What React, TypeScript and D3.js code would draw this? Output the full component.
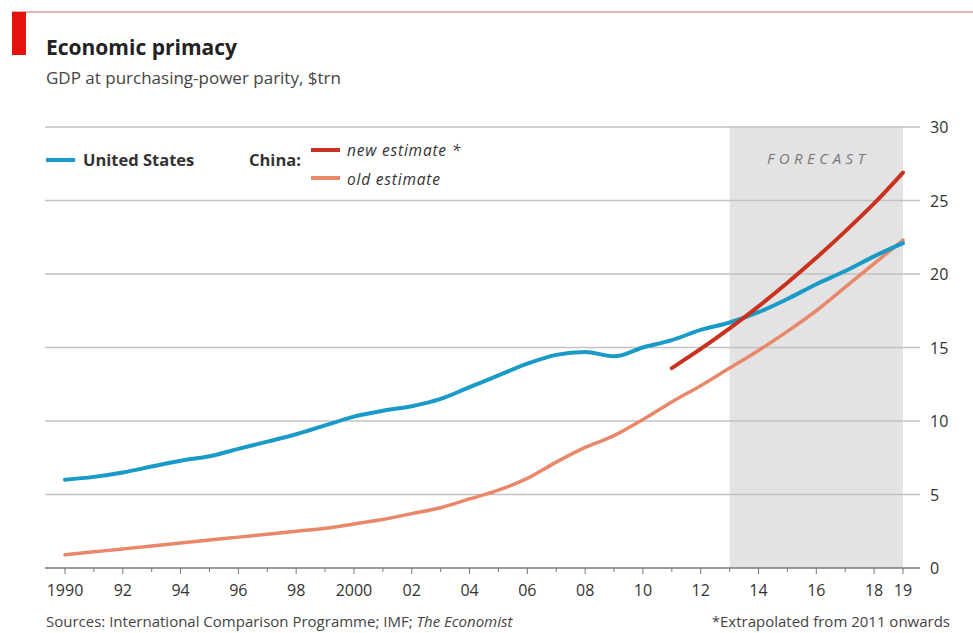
import React, { useEffect, useRef } from 'react';
import * as d3 from 'd3';

const years = d3.range(1990, 2020);
const usGdp = [
  6.0, 6.2, 6.5, 6.9, 7.3, 7.6, 8.1, 8.6, 9.1, 9.7, 10.3, 10.7, 11.0, 11.5, 12.3, 13.1, 13.9, 14.5, 14.7, 14.4,
  15.0, 15.5, 16.2, 16.7, 17.4, 18.3, 19.3, 20.2, 21.2, 22.1,
];
const chinaOld = [
  0.9, 1.1, 1.3, 1.5, 1.7, 1.9, 2.1, 2.3, 2.5, 2.7, 3.0, 3.3, 3.7, 4.1, 4.7, 5.3, 6.1, 7.2, 8.2, 9.0,
  10.1, 11.3, 12.4, 13.6, 14.8, 16.1, 17.5, 19.1, 20.7, 22.3,
];
const chinaNewYears = d3.range(2011, 2020);
const chinaNew = [13.6, 14.9, 16.3, 17.8, 19.4, 21.1, 22.9, 24.8, 26.9];
const yTicks = [0, 5, 10, 15, 20, 25, 30];
const xTickYears = [1990, 1992, 1994, 1996, 1998, 2000, 2002, 2004, 2006, 2008, 2010, 2012, 2014, 2016, 2018, 2019];
const forecastStart = 2013;

const W = 973;
const H = 633;
const font = '"Open Sans", "Noto Sans", sans-serif';

function App() {
  const ref = useRef<any>(null);

  useEffect(() => {
    const svg = d3.select(ref.current);
    svg.selectAll('*').remove();

    const x = d3.scaleLinear().domain([1990, 2019]).range([65, 903]);
    const y = d3.scaleLinear().domain([0, 30]).range([568, 127]);

    // header
    svg.append('line').attr('x1', 12).attr('x2', W).attr('y1', 12).attr('y2', 12)
      .attr('stroke', '#d79a8c').attr('stroke-width', 1.5);
    svg.append('rect').attr('x', 12).attr('y', 12).attr('width', 14).attr('height', 43).attr('fill', '#e3120b');
    svg.append('text').attr('x', 46).attr('y', 55).text('Economic primacy')
      .attr('font-family', font).attr('font-weight', 700).attr('font-size', 21).attr('fill', '#222');
    svg.append('text').attr('x', 46).attr('y', 84).text('GDP at purchasing-power parity, $trn')
      .attr('font-family', font).attr('font-size', 17).attr('fill', '#444');

    // forecast shading
    svg.append('rect')
      .attr('x', x(forecastStart)).attr('y', y(30))
      .attr('width', x(2019) - x(forecastStart)).attr('height', y(0) - y(30))
      .attr('fill', '#e3e3e3');
    svg.append('text').attr('x', (x(forecastStart) + x(2019)) / 2 + 2).attr('y', 164)
      .attr('text-anchor', 'middle').text('FORECAST')
      .attr('font-family', font).attr('font-style', 'italic').attr('font-size', 15)
      .attr('letter-spacing', 4.5).attr('fill', '#777');

    // gridlines + right labels
    const grid = svg.append('g');
    yTicks.filter((t) => t > 0).forEach((t) => {
      grid.append('line').attr('x1', 45).attr('x2', 920).attr('y1', y(t)).attr('y2', y(t))
        .attr('stroke', '#c2c2c2').attr('stroke-width', 1.5);
    });
    yTicks.forEach((t) => {
      grid.append('text').attr('x', 930).attr('y', y(t) + 6).text(String(t))
        .attr('font-family', font).attr('font-size', 16).attr('fill', '#333');
    });

    // x axis
    svg.append('line').attr('x1', 45).attr('x2', 920).attr('y1', y(0)).attr('y2', y(0))
      .attr('stroke', '#777').attr('stroke-width', 1.5);
    years.forEach((yr) => {
      const major = xTickYears.includes(yr);
      svg.append('line').attr('x1', x(yr)).attr('x2', x(yr)).attr('y1', y(0))
        .attr('y2', y(0) + (major ? 6 : 4)).attr('stroke', '#777').attr('stroke-width', 1);
    });
    xTickYears.forEach((yr) => {
      const label = yr === 1990 || yr === 2000 ? String(yr) : String(yr).slice(2);
      svg.append('text').attr('x', x(yr)).attr('y', 596).attr('text-anchor', 'middle').text(label)
        .attr('font-family', font).attr('font-size', 16).attr('fill', '#333');
    });

    // lines
    const line = d3.line<[number, number]>()
      .x((d) => x(d[0]))
      .y((d) => y(d[1]))
      .curve(d3.curveMonotoneX);

    const drawLine = (xs: number[], vs: number[], color: string, w: number) => {
      svg.append('path')
        .datum(xs.map((v, i) => [v, vs[i]] as [number, number]))
        .attr('d', line as any)
        .attr('fill', 'none')
        .attr('stroke', color)
        .attr('stroke-width', w)
        .attr('stroke-linecap', 'round');
    };
    drawLine(years, chinaOld, '#e8876a', 3.5);
    drawLine(years, usGdp, '#1a9bc7', 4);
    drawLine(chinaNewYears, chinaNew, '#c9321f', 4);

    // legend
    const lg = svg.append('g').attr('font-family', font);
    lg.append('line').attr('x1', 46).attr('x2', 75).attr('y1', 160).attr('y2', 160)
      .attr('stroke', '#1a9bc7').attr('stroke-width', 4);
    lg.append('text').attr('x', 83).attr('y', 166).text('United States')
      .attr('font-weight', 700).attr('font-size', 16.5).attr('fill', '#333');
    lg.append('text').attr('x', 249).attr('y', 166).text('China:')
      .attr('font-weight', 700).attr('font-size', 16.5).attr('fill', '#333');
    lg.append('line').attr('x1', 311).attr('x2', 340).attr('y1', 150).attr('y2', 150)
      .attr('stroke', '#c9321f').attr('stroke-width', 4);
    lg.append('line').attr('x1', 311).attr('x2', 340).attr('y1', 178).attr('y2', 178)
      .attr('stroke', '#e8876a').attr('stroke-width', 4);
    lg.append('text').attr('x', 347).attr('y', 156).text('new estimate *')
      .attr('font-style', 'italic').attr('font-size', 15.5).attr('letter-spacing', 0.8).attr('fill', '#333');
    lg.append('text').attr('x', 347).attr('y', 185).text('old estimate')
      .attr('font-style', 'italic').attr('font-size', 15.5).attr('letter-spacing', 0.8).attr('fill', '#333');

    // footer
    const src = svg.append('text').attr('x', 46).attr('y', 627)
      .attr('font-family', font).attr('font-size', 15).attr('fill', '#444');
    src.append('tspan').text('Sources: International Comparison Programme; IMF; ');
    src.append('tspan').attr('font-style', 'italic').text('The Economist');
    svg.append('text').attr('x', 950).attr('y', 627).attr('text-anchor', 'end')
      .text('*Extrapolated from 2011 onwards')
      .attr('font-family', font).attr('font-size', 15).attr('fill', '#444');
  }, []);

  return (
    <svg ref={ref} width={W} height={H} style={{ position: 'absolute', left: 0, top: 0, background: '#fff' }}></svg>
  );
}

export default App;
